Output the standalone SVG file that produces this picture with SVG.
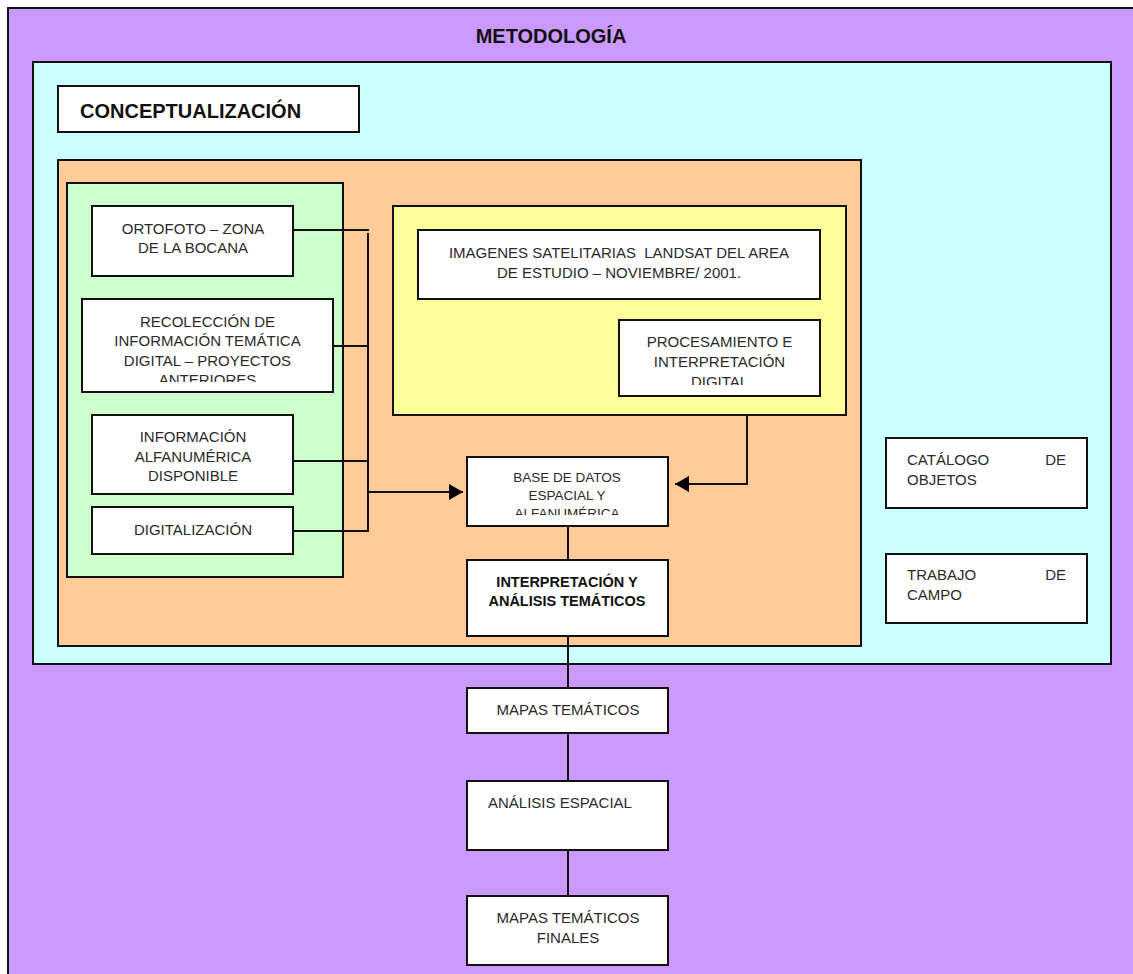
<svg xmlns="http://www.w3.org/2000/svg" width="1133" height="974" viewBox="0 0 1133 974">
  <style>
    .frame { stroke: #111; stroke-width: 2; }
    .box { fill: #fff; stroke: #111; stroke-width: 2; }
    .t { font-family: "Liberation Sans", Arial, sans-serif; font-size: 15px; fill: #2a2a2a; }
    .c { text-anchor: middle; }
    .e { text-anchor: end; }
    .b { font-weight: bold; font-size: 14.5px; fill: #111; }
    .small { font-size: 13.5px; }
    .title { font-family: "Liberation Sans", Arial, sans-serif; font-size: 20px; font-weight: bold; fill: #111; }
    .wire { fill: none; stroke: #111; stroke-width: 2; }
  </style>
  <defs>
    <marker id="arrow" markerUnits="userSpaceOnUse" markerWidth="14" markerHeight="16" refX="14" refY="8" orient="auto">
      <path d="M0,0 L14,8 L0,16 Z" fill="#000"/>
    </marker>
    <clipPath id="clipRecoleccion"><rect x="82" y="299" width="251" height="83"/></clipPath>
    <clipPath id="clipProcesamiento"><rect x="619" y="320" width="201" height="65"/></clipPath>
    <clipPath id="clipBase"><rect x="467" y="457" width="201" height="58"/></clipPath>
  </defs>

  <!-- background white -->
  <rect x="0" y="0" width="1133" height="974" fill="#fff"/>

  <!-- outer methodology panel -->
  <g id="metodologia">
    <rect class="frame" x="8" y="8" width="1140" height="980" fill="#CC99FF"/>
    <text class="title" x="551" y="43" text-anchor="middle">METODOLOGÍA</text>
  </g>

  <!-- conceptualisation panel -->
  <g id="conceptualizacion-panel">
    <rect class="frame" x="33" y="62" width="1078" height="602" fill="#CCFFFF"/>
  </g>
  <g id="conceptualizacion">
    <rect class="box" x="58" y="86" width="301" height="46"/>
    <text class="title" x="80" y="118">CONCEPTUALIZACIÓN</text>
  </g>

  <!-- processing area -->
  <g id="area-procesamiento">
    <rect class="frame" x="58" y="160" width="803" height="486" fill="#FFCC99"/>
  </g>

  <!-- input sources -->
  <g id="fuentes">
    <rect class="frame" x="67" y="183" width="276" height="394" fill="#CCFFCC"/>
  </g>
  <g id="ortofoto">
    <rect class="box" x="92" y="206" width="201" height="70"/>
    <text class="t c" x="193" y="234">ORTOFOTO – ZONA</text>
    <text class="t c" x="193" y="253">DE LA BOCANA</text>
  </g>
  <g id="recoleccion">
    <rect class="box" x="82" y="299" width="251" height="93"/>
    <g clip-path="url(#clipRecoleccion)">
      <text class="t c" x="207.5" y="327">RECOLECCIÓN DE</text>
      <text class="t c" x="207.5" y="346">INFORMACIÓN TEMÁTICA</text>
      <text class="t c" x="207.5" y="366">DIGITAL – PROYECTOS</text>
      <text class="t c" x="207.5" y="385">ANTERIORES</text>
    </g>
  </g>
  <g id="informacion">
    <rect class="box" x="92" y="415" width="201" height="79"/>
    <text class="t c" x="193" y="442">INFORMACIÓN</text>
    <text class="t c" x="193" y="462">ALFANUMÉRICA</text>
    <text class="t c" x="193" y="481">DISPONIBLE</text>
  </g>
  <g id="digitalizacion">
    <rect class="box" x="92" y="507" width="201" height="47"/>
    <text class="t c" x="193" y="535">DIGITALIZACIÓN</text>
  </g>

  <!-- satellite imagery -->
  <g id="satelite">
    <rect class="frame" x="393" y="206" width="453" height="209" fill="#FFFF99"/>
  </g>
  <g id="imagenes">
    <rect class="box" x="418" y="230" width="402" height="69"/>
    <text class="t c" x="619" y="258" xml:space="preserve">IMAGENES SATELITARIAS  LANDSAT DEL AREA</text>
    <text class="t c" x="619" y="278">DE ESTUDIO – NOVIEMBRE/ 2001.</text>
  </g>
  <g id="procesamiento">
    <rect class="box" x="619" y="320" width="201" height="76"/>
    <g clip-path="url(#clipProcesamiento)">
      <text class="t c" x="719.5" y="347">PROCESAMIENTO E</text>
      <text class="t c" x="719.5" y="367">INTERPRETACIÓN</text>
      <text class="t c" x="719.5" y="387">DIGITAL</text>
    </g>
  </g>

  <!-- database and analysis chain -->
  <g id="base-datos">
    <rect class="box" x="467" y="457" width="201" height="69"/>
    <g clip-path="url(#clipBase)">
      <text class="t c small" x="567" y="482">BASE DE DATOS</text>
      <text class="t c small" x="567" y="500">ESPACIAL Y</text>
      <text class="t c small" x="567" y="518">ALFANUMÉRICA</text>
    </g>
  </g>
  <g id="interpretacion">
    <rect class="box" x="467" y="560" width="201" height="76"/>
    <text class="t c b" x="567" y="587">INTERPRETACIÓN Y</text>
    <text class="t c b" x="567" y="606">ANÁLISIS TEMÁTICOS</text>
  </g>
  <g id="mapas">
    <rect class="box" x="467" y="688" width="201" height="45"/>
    <text class="t c" x="568" y="715">MAPAS TEMÁTICOS</text>
  </g>
  <g id="analisis-espacial">
    <rect class="box" x="467" y="781" width="201" height="69"/>
    <text class="t" x="488" y="808">ANÁLISIS ESPACIAL</text>
  </g>
  <g id="mapas-finales">
    <rect class="box" x="467" y="896" width="201" height="69"/>
    <text class="t c" x="568" y="923">MAPAS TEMÁTICOS</text>
    <text class="t c" x="568" y="943">FINALES</text>
  </g>

  <!-- side activities -->
  <g id="catalogo">
    <rect class="box" x="886" y="438" width="201" height="70"/>
    <text class="t" x="907" y="465">CATÁLOGO</text>
    <text class="t e" x="1066" y="465">DE</text>
    <text class="t" x="907" y="485">OBJETOS</text>
  </g>
  <g id="trabajo-campo">
    <rect class="box" x="886" y="554" width="201" height="69"/>
    <text class="t" x="907" y="580">TRABAJO</text>
    <text class="t e" x="1066" y="580">DE</text>
    <text class="t" x="907" y="600">CAMPO</text>
  </g>

  <!-- connectors -->
  <g id="conectores">
    <path class="wire" d="M293,230 H369"/>
    <path class="wire" d="M333,346 H369"/>
    <path class="wire" d="M293,461 H369"/>
    <path class="wire" d="M293,531 H369"/>
    <path class="wire" d="M368,233 V531"/>
    <path class="wire" d="M368,492 H463" marker-end="url(#arrow)"/>
    <path class="wire" d="M747,415 V484 H675" marker-end="url(#arrow)"/>
    <path class="wire" d="M568,526 V560"/>
    <path class="wire" d="M568,636 V688"/>
    <path class="wire" d="M568,733 V781"/>
    <path class="wire" d="M568,850 V896"/>
  </g>
</svg>
